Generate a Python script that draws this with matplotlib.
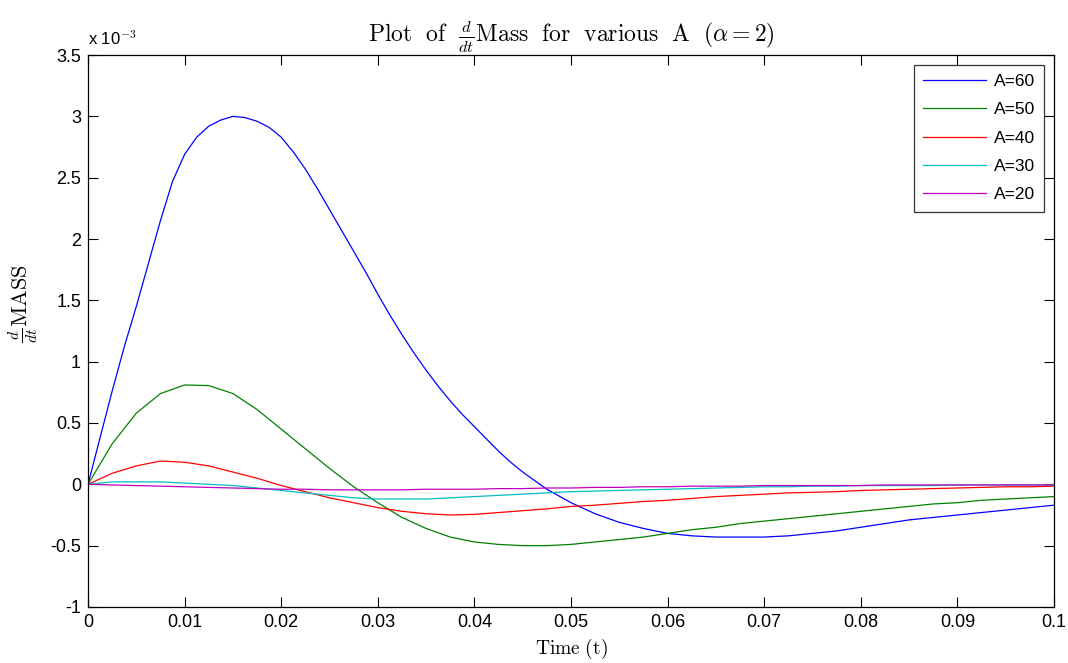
import numpy as np
import matplotlib
matplotlib.use('Agg')
import matplotlib.pyplot as plt
from matplotlib.ticker import FuncFormatter, MultipleLocator

plt.rcParams['font.family'] = ['Liberation Sans', 'DejaVu Sans']
plt.rcParams['mathtext.fontset'] = 'cm'
plt.rcParams['axes.unicode_minus'] = False

# time axis (t)
t = [0.0, 0.0025, 0.005, 0.0075, 0.01, 0.0125, 0.015, 0.0175, 0.02, 0.0225,
     0.025, 0.0275, 0.03, 0.0325, 0.035, 0.0375, 0.04, 0.0425, 0.045, 0.0475,
     0.05, 0.0525, 0.055, 0.0575, 0.06, 0.0625, 0.065, 0.0675, 0.07, 0.0725,
     0.075, 0.0775, 0.08, 0.0825, 0.085, 0.0875, 0.09, 0.0925, 0.095, 0.0975, 0.1]

# A=60 read on a finer time grid (steep curve)
t_a60 = [0.0, 0.00125, 0.0025, 0.00375, 0.005, 0.00625, 0.0075, 0.00875, 0.01, 0.01125,
         0.0125, 0.01375, 0.015, 0.01625, 0.0175, 0.01875, 0.02, 0.02125, 0.0225, 0.02375,
         0.025, 0.02625, 0.0275, 0.02875, 0.03, 0.03125, 0.0325, 0.03375, 0.035, 0.03625,
         0.0375, 0.03875, 0.04, 0.04125, 0.0425, 0.04375, 0.045, 0.0475,
         0.05, 0.0525, 0.055, 0.0575, 0.06, 0.0625, 0.065, 0.0675, 0.07, 0.0725,
         0.075, 0.0775, 0.08, 0.0825, 0.085, 0.0875, 0.09, 0.0925, 0.095, 0.0975, 0.1]

# d/dt Mass, in units of 1e-3
dm_a60 = [0.0, 0.38, 0.76, 1.12, 1.45, 1.80, 2.15, 2.47, 2.69, 2.83,
          2.92, 2.97, 3.0, 2.99, 2.96, 2.91, 2.83, 2.71, 2.57, 2.41,
          2.24, 2.07, 1.90, 1.73, 1.55, 1.38, 1.22, 1.07, 0.93, 0.80,
          0.68, 0.57, 0.47, 0.37, 0.27, 0.18, 0.10, -0.04,
          -0.15, -0.24, -0.31, -0.36, -0.40, -0.42, -0.43, -0.43, -0.43, -0.42,
          -0.40, -0.38, -0.35, -0.32, -0.29, -0.27, -0.25, -0.23, -0.21, -0.19, -0.17]
dm_a50 = [0.0, 0.33, 0.58, 0.74, 0.81, 0.805, 0.74, 0.61, 0.45, 0.29,
          0.13, -0.02, -0.15, -0.27, -0.36, -0.43, -0.47, -0.49, -0.50, -0.50,
          -0.49, -0.47, -0.45, -0.43, -0.40, -0.37, -0.35, -0.32, -0.30, -0.28,
          -0.26, -0.24, -0.22, -0.20, -0.18, -0.16, -0.15, -0.13, -0.12, -0.11, -0.10]
dm_a40 = [0.0, 0.09, 0.15, 0.19, 0.18, 0.15, 0.10, 0.05, -0.01, -0.06,
          -0.11, -0.15, -0.19, -0.22, -0.24, -0.25, -0.245, -0.23, -0.215, -0.20,
          -0.18, -0.17, -0.155, -0.14, -0.13, -0.115, -0.10, -0.09, -0.08, -0.07,
          -0.065, -0.06, -0.05, -0.045, -0.04, -0.035, -0.03, -0.025, -0.02, -0.02, -0.015]
dm_a30 = [0.0, 0.02, 0.02, 0.02, 0.01, 0.0, -0.01, -0.03, -0.05, -0.07,
          -0.09, -0.11, -0.12, -0.12, -0.12, -0.11, -0.10, -0.09, -0.08, -0.07,
          -0.06, -0.055, -0.05, -0.045, -0.04, -0.035, -0.03, -0.025, -0.02, -0.02,
          -0.015, -0.015, -0.01, -0.01, -0.01, -0.01, -0.005, -0.005, -0.005, -0.005, -0.005]
dm_a20 = [0.0, -0.005, -0.01, -0.015, -0.02, -0.025, -0.03, -0.035, -0.04, -0.04,
          -0.045, -0.045, -0.045, -0.045, -0.04, -0.04, -0.04, -0.035, -0.035, -0.03,
          -0.03, -0.025, -0.025, -0.02, -0.02, -0.015, -0.015, -0.015, -0.01, -0.01,
          -0.01, -0.01, -0.01, -0.005, -0.005, -0.005, -0.005, -0.005, -0.005, -0.005, -0.005]

labels = ['A=60', 'A=50', 'A=40', 'A=30', 'A=20']
times = [t_a60, t, t, t, t]
series = [dm_a60, dm_a50, dm_a40, dm_a30, dm_a20]
colors = ['#0000ff', '#008000', '#ff0000', '#00bfbf', '#bf00bf']

fig = plt.figure(figsize=(10.68, 6.63), dpi=100)
ax = fig.add_axes([0.0824, 0.0845, 0.9045, 0.8325])

for tt, vals, lab, col in zip(times, series, labels, colors):
    ax.plot(np.array(tt), np.array(vals) * 1e-3, color=col, linewidth=0.9, label=lab)

ax.set_xlim(0, 0.1)
ax.set_ylim(-1e-3, 3.5e-3)
ax.xaxis.set_major_locator(MultipleLocator(0.01))
ax.yaxis.set_major_locator(MultipleLocator(0.5e-3))
ax.xaxis.set_major_formatter(FuncFormatter(lambda v, p: '%g' % round(v, 4)))
ax.yaxis.set_major_formatter(FuncFormatter(lambda v, p: '%g' % round(v * 1e3, 4)))
ax.tick_params(direction='in', length=7, width=0.8, top=True, right=True,
               labelsize=13, pad=5)
for s in ax.spines.values():
    s.set_linewidth(0.9)

ax.text(0.0, 1.012, r'x 10$^{\mathsf{-3}}$', transform=ax.transAxes,
        fontsize=12, ha='left', va='bottom')

ax.set_title(r'$\mathrm{Plot\ \ of\ \ }\frac{d}{dt}\mathrm{Mass\ \ for\ \ various\ \ A\ \ (}\alpha=2\mathrm{)}$',
             fontsize=17, pad=9)
ax.set_xlabel(r'$\mathrm{Time\ (t)}$', fontsize=14, labelpad=4)
ax.set_ylabel(r'$\frac{d}{dt}\mathrm{MASS}$', fontsize=16)
ax.yaxis.set_label_coords(-0.05, 0.55)

leg = ax.legend(loc='upper right', fontsize=12.5, handlelength=3.6, frameon=True,
                fancybox=False, edgecolor='black', borderaxespad=0.55,
                labelspacing=0.75, handletextpad=0.45, borderpad=0.55)
leg.get_frame().set_linewidth(0.9)

fig.savefig('out.png', dpi=100)
